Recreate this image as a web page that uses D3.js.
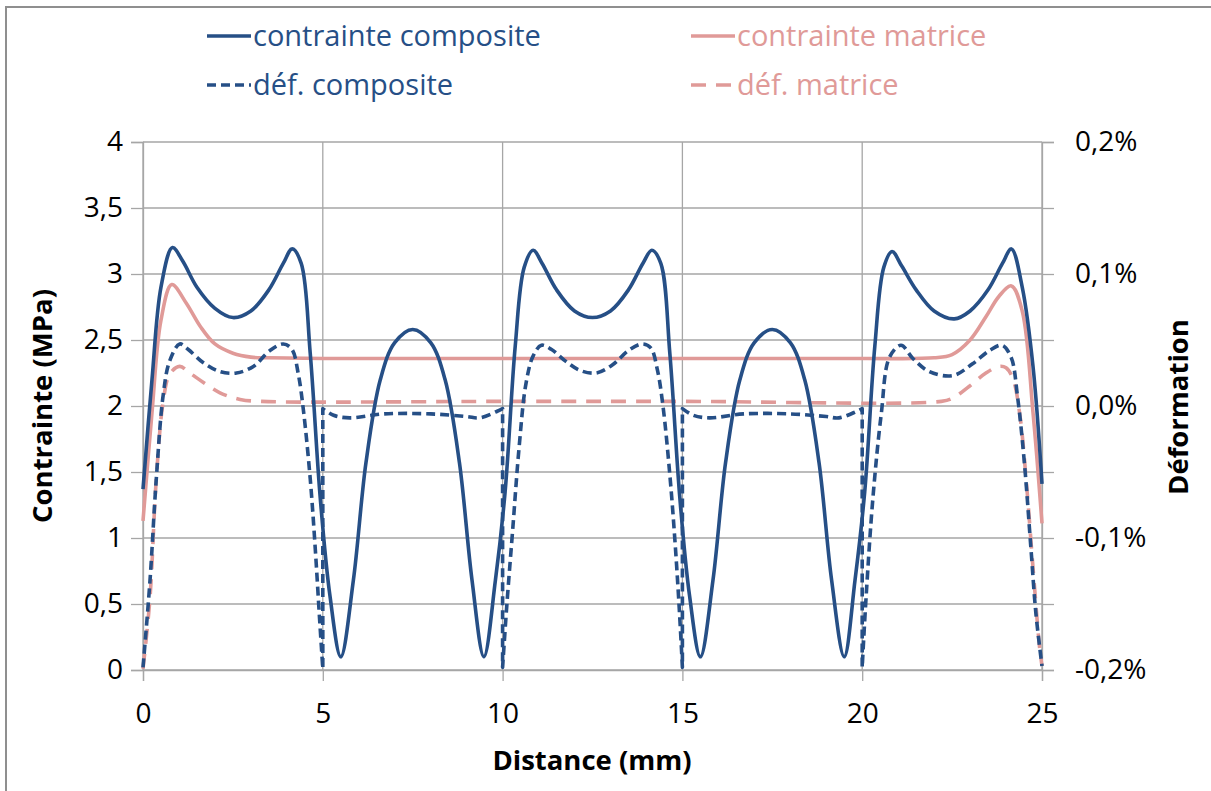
<!DOCTYPE html>
<html><head><meta charset="utf-8">
<script src="https://cdn.jsdelivr.net/npm/d3@7"></script>
<style>
body{margin:0;background:#fff}
svg{display:block}
text{font-family:"Open Sans",sans-serif}
</style>
</head><body>
<svg id="c" width="1211" height="791"></svg>
<script>
// ---- data ----
const xTicks = [0, 5, 10, 15, 20, 25];
const yTicksLeft = [0, 0.5, 1, 1.5, 2, 2.5, 3, 3.5, 4];
const yTicksRight = [-0.2, -0.15, -0.1, -0.05, 0, 0.05, 0.1, 0.15, 0.2];
const yLabelsRight = [-0.2, -0.1, 0, 0.1, 0.2];
const seriesNames = ["contrainte composite", "contrainte matrice", "déf. composite", "déf. matrice"];

// distance (mm), contrainte (MPa)
const contrainteComposite = [[0,1.37],[0.25,2.2],[0.5,2.9],[0.82,3.2],[1.1,3.1],[1.5,2.9],[2.0,2.74],[2.5,2.67],[3.0,2.72],[3.5,2.88],[3.9,3.08],[4.15,3.19],[4.4,3.08],[4.65,2.4],[4.93,1.3],[5.2,0.56],[5.5,0.1],[5.85,0.68],[6.2,1.57],[6.6,2.2],[7.0,2.48],[7.5,2.58],[8.0,2.48],[8.4,2.2],[8.8,1.57],[9.15,0.68],[9.48,0.1],[9.8,0.68],[10.07,1.35],[10.35,2.45],[10.6,3.05],[10.85,3.18],[11.1,3.08],[11.5,2.88],[12.0,2.72],[12.5,2.67],[13.0,2.72],[13.5,2.88],[13.9,3.08],[14.15,3.18],[14.4,3.08],[14.65,2.4],[14.93,1.3],[15.2,0.56],[15.5,0.1],[15.85,0.68],[16.2,1.57],[16.6,2.2],[17.0,2.48],[17.5,2.58],[18.0,2.48],[18.4,2.2],[18.8,1.57],[19.15,0.68],[19.5,0.1],[19.8,0.68],[20.07,1.35],[20.35,2.45],[20.6,3.05],[20.83,3.17],[21.1,3.06],[21.5,2.88],[22.0,2.72],[22.56,2.66],[23.0,2.72],[23.5,2.88],[23.9,3.08],[24.15,3.19],[24.45,2.9],[24.75,2.3],[25,1.41]];
const contrainteMatrice = [[0,1.13],[0.25,1.95],[0.5,2.65],[0.8,2.92],[1.2,2.78],[1.6,2.6],[2.0,2.47],[2.5,2.4],[3.0,2.37],[3.5,2.365],[5,2.36],[10,2.36],[15,2.36],[20,2.36],[22.0,2.365],[22.5,2.39],[23.0,2.5],[23.45,2.68],[23.8,2.83],[24.15,2.91],[24.45,2.72],[24.75,1.95],[25,1.11]];
// distance (mm), déformation (%)
const defComposite = [[0,-0.198],[0.19,-0.134],[0.37,-0.055],[0.56,0.008],[0.74,0.034],[1.02,0.047],[1.25,0.043],[1.67,0.033],[2.14,0.026],[2.6,0.025],[3.07,0.030],[3.53,0.042],[3.9,0.047],[4.14,0.043],[4.32,0.024],[4.46,-0.003],[4.65,-0.055],[4.79,-0.108],[4.91,-0.161],[5.0,-0.199],
[5.0,-0.002],[5.3,-0.007],[5.75,-0.009],[6.7,-0.006],[8.0,-0.006],[9.0,-0.008],[9.35,-0.009],[9.85,-0.004],[10.0,-0.002],
[10.0,-0.198],[10.12,-0.15],[10.28,-0.094],[10.46,-0.031],[10.65,0.017],[10.85,0.038],[11.08,0.046],[11.35,0.043],[11.75,0.034],[12.15,0.027],[12.6,0.025],[13.05,0.031],[13.5,0.042],[13.88,0.047],[14.12,0.044],[14.3,0.028],[14.46,0.0],[14.65,-0.052],[14.8,-0.105],[14.92,-0.157],[15.0,-0.198],
[15.0,-0.002],[15.3,-0.007],[15.75,-0.009],[16.7,-0.006],[18.0,-0.006],[19.0,-0.008],[19.35,-0.009],[19.85,-0.004],[20.0,-0.002],
[20.0,-0.198],[20.11,-0.144],[20.3,-0.069],[20.53,-0.006],[20.76,0.037],[21.08,0.046],[21.41,0.036],[21.87,0.026],[22.52,0.023],[23.07,0.032],[23.54,0.042],[23.89,0.046],[24.14,0.037],[24.32,0.007],[24.51,-0.043],[24.69,-0.107],[24.83,-0.157],[25.0,-0.197]];
const defMatrice = [[0,-0.199],[0.19,-0.147],[0.37,-0.055],[0.56,0.003],[0.74,0.024],[1.02,0.030],[1.3,0.025],[1.67,0.018],[2.14,0.010],[2.7,0.005],[3.3,0.0035],[10,0.0035],[15,0.0035],[22.2,0.0035],[22.52,0.006],[22.98,0.015],[23.44,0.025],[23.8,0.030],[24.0,0.029],[24.2,0.02],[24.39,-0.008],[24.56,-0.056],[24.74,-0.119],[24.93,-0.182],[25,-0.197]];

// ---- drawing ----
const blue = "#264f86", pink = "#e09a98", grid = "#a6a6a6";
const svg = d3.select("#c");
const L = 143, R = 1042, T = 142, B = 670;
const x = d3.scaleLinear().domain([0, 25]).range([L, R]);
const yL = d3.scaleLinear().domain([0, 4]).range([B, T]);
const yR = d3.scaleLinear().domain([-0.2, 0.2]).range([B, T]);

svg.append("rect").attr("x", 6).attr("y", 7).attr("width", 1230).attr("height", 810)
  .attr("fill", "#fff").attr("stroke", "#8f8f8f").attr("stroke-width", 2);

// gridlines
svg.append("g").selectAll("line").data(yTicksLeft).join("line")
  .attr("x1", L).attr("x2", R).attr("y1", d => yL(d)).attr("y2", d => yL(d))
  .attr("stroke", grid).attr("stroke-width", 1.3);
svg.append("g").selectAll("line").data(xTicks).join("line")
  .attr("x1", d => x(d)).attr("x2", d => x(d)).attr("y1", T).attr("y2", B)
  .attr("stroke", grid).attr("stroke-width", 1.3);

const comma = v => String(v).replace(".", ",");
function styleAxis(g) {
  g.select(".domain").attr("stroke", grid).attr("stroke-width", 1.3);
  g.selectAll(".tick line").attr("stroke", grid).attr("stroke-width", 1.3);
  g.selectAll(".tick text").attr("fill", "#000").style("font-size", "28px").style("font-family", "'Open Sans',sans-serif");
}
svg.append("g").attr("transform", `translate(${L},0)`)
  .call(d3.axisLeft(yL).tickValues(yTicksLeft).tickSize(12).tickPadding(8).tickFormat(comma))
  .call(styleAxis);
svg.append("g").attr("transform", `translate(${R},0)`)
  .call(d3.axisRight(yR).tickValues(yTicksRight).tickSize(12).tickPadding(21)
    .tickFormat(d => yLabelsRight.some(v => Math.abs(v - d) < 1e-9) ? (d.toFixed(1) + "%").replace(".", ",") : ""))
  .call(styleAxis);
svg.append("g").attr("transform", `translate(0,${B})`)
  .call(d3.axisBottom(x).tickValues(xTicks).tickSize(11).tickPadding(22).tickFormat(comma))
  .call(styleAxis);

// axis titles
svg.append("text").attr("transform", `translate(52,406) rotate(-90)`).attr("text-anchor", "middle")
  .style("font-size", "27.5px").style("font-weight", "bold").text("Contrainte (MPa)");
svg.append("text").attr("transform", `translate(1188,407) rotate(-90)`).attr("text-anchor", "middle")
  .style("font-size", "27.5px").style("font-weight", "bold").text("Déformation");
svg.append("text").attr("x", 592).attr("y", 770).attr("text-anchor", "middle")
  .style("font-size", "27.5px").style("font-weight", "bold").text("Distance (mm)");

// lines: split at vertical jumps (same x twice), joined into one continuous path
function pathFor(data, y) {
  const segs = [[]];
  data.forEach((p, i) => {
    if (i > 0 && p[0] === data[i - 1][0]) segs.push([]);
    segs[segs.length - 1].push(p);
  });
  const line = d3.line().x(d => x(d[0])).y(d => y(d[1])).curve(d3.curveCatmullRom.alpha(0.5));
  return segs.map((s, i) => { const p = line(s); return i === 0 ? p : "L" + p.slice(1); }).join("");
}
const series = [
  {data: contrainteMatrice, y: yL, color: pink, dash: null},
  {data: defMatrice, y: yR, color: pink, dash: "15,10"},
  {data: defComposite, y: yR, color: blue, dash: "9,5"},
  {data: contrainteComposite, y: yL, color: blue, dash: null}
];
series.forEach(s => {
  svg.append("path").attr("d", pathFor(s.data, s.y)).attr("fill", "none")
    .attr("stroke", s.color).attr("stroke-width", 3.6)
    .attr("stroke-dasharray", s.dash).attr("stroke-linejoin", "round");
});

// legend
const legend = [
  {name: seriesNames[0], color: blue, dash: null, x: 207, y: 36},
  {name: seriesNames[1], color: pink, dash: null, x: 691, y: 36},
  {name: seriesNames[2], color: blue, dash: "9,5", x: 207, y: 85},
  {name: seriesNames[3], color: pink, dash: "15,10", x: 691, y: 85}
];
legend.forEach(l => {
  svg.append("line").attr("x1", l.x).attr("x2", l.x + 44).attr("y1", l.y).attr("y2", l.y)
    .attr("stroke", l.color).attr("stroke-width", 3.6).attr("stroke-dasharray", l.dash);
  svg.append("text").attr("x", l.x + 46).attr("y", l.y).attr("dy", "0.35em")
    .attr("fill", l.color).style("font-size", "29px").text(l.name);
});
</script>
</body></html>
